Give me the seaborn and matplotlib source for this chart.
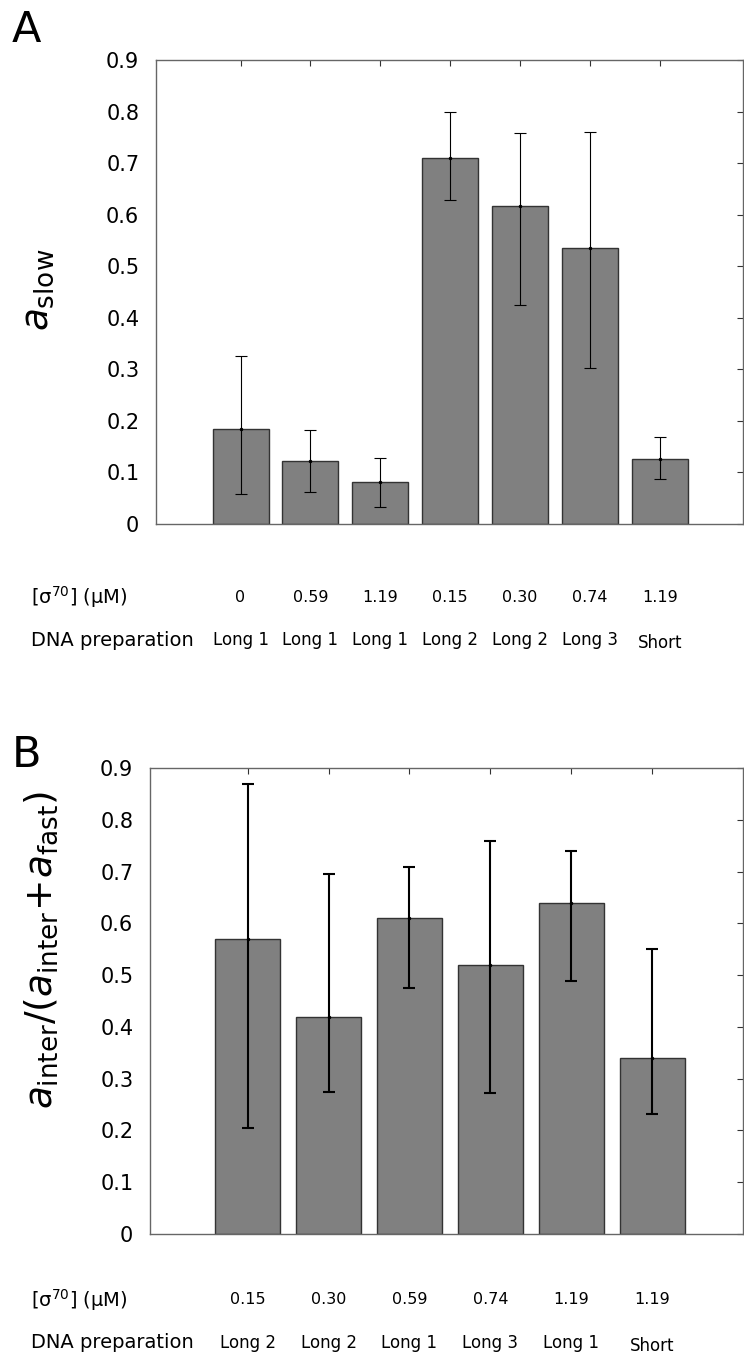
"""
Barras com erro assimetrico para a_slow e a razao a_inter/(a_inter+a_fast)
"""

import numpy as np
import pandas as pd
import seaborn as sns
import matplotlib.pyplot as plt

# Painel A
conc_a = ['0', '0.59', '1.19', '0.15', '0.30', '0.74', '1.19']
prep_a = ['Long 1', 'Long 1', 'Long 1', 'Long 2', 'Long 2', 'Long 3', 'Short']
slow = [0.184, 0.123, 0.081, 0.709, 0.617, 0.535, 0.127]
slow_lo = [0.058, 0.063, 0.033, 0.628, 0.425, 0.303, 0.087]
slow_hi = [0.326, 0.182, 0.128, 0.800, 0.758, 0.760, 0.168]

# Painel B
conc_b = ['0.15', '0.30', '0.59', '0.74', '1.19', '1.19']
prep_b = ['Long 2', 'Long 2', 'Long 1', 'Long 3', 'Long 1', 'Short']
ratio = [0.57, 0.42, 0.61, 0.52, 0.64, 0.34]
ratio_lo = [0.205, 0.275, 0.475, 0.272, 0.488, 0.232]
ratio_hi = [0.870, 0.695, 0.708, 0.759, 0.739, 0.551]

yticks = [0, 0.1, 0.2, 0.3, 0.4, 0.5, 0.6, 0.7, 0.8, 0.9]

sns.set_style('white')
plt.rcParams['font.family'] = ['DejaVu Sans']
plt.rcParams['mathtext.fontset'] = 'dejavusans'
plt.rcParams['text.color'] = 'black'
plt.rcParams['xtick.color'] = 'black'
plt.rcParams['ytick.color'] = 'black'

W, H = 744, 1355
fig = plt.figure(figsize=(W / 100, H / 100), dpi=100)
ax_a = fig.add_axes([156/W, 1 - 524/H, 587/W, 464/H])
ax_b = fig.add_axes([150/W, 1 - 1234/H, 593/W, 466/H])


def painel(ax, vals, lo, hi, conc, prep, xlim, ew, cap, rows):
    pos = np.arange(1, len(vals) + 1)
    df = pd.DataFrame({'pos': pos, 'val': vals})
    sns.barplot(data=df, x='pos', y='val', native_scale=True, ax=ax,
                color='#808080', saturation=1, edgecolor='#333333',
                linewidth=1, errorbar=None, width=0.8)
    vals = np.array(vals)
    yerr = [vals - np.array(lo), np.array(hi) - vals]
    ax.errorbar(pos, vals, yerr=yerr, fmt='.', color='black', ms=3,
                elinewidth=ew, capsize=cap, capthick=ew)
    ax.set_xlim(*xlim)
    ax.set_ylim(0, 0.9)
    ax.set_xticks(pos)
    ax.set_xticklabels([])
    ax.set_yticks(yticks)
    ax.set_yticklabels(['0'] + [f'{t:.1f}' for t in yticks[1:]], fontsize=15)
    ax.set_xlabel('')
    ax.set_ylabel('')
    ax.tick_params(direction='in', top=True, right=True, length=4,
                   width=0.8, color='#333333', pad=12)
    for s in ax.spines.values():
        s.set_color('#666666')
        s.set_linewidth(1)
    # linhas de texto abaixo do eixo (coordenadas de figura em y)
    tr = ax.get_xaxis_transform()
    y0, y1 = rows
    bb = ax.get_position()
    def ax_y(py):
        return ((1 - py / H) - bb.y0) / bb.height
    for p, c, d in zip(pos, conc, prep):
        ax.text(p, ax_y(y0), c, transform=tr, ha='center', va='center',
                fontsize=11.5, family=['Liberation Sans Narrow', 'DejaVu Sans'])
        dy = 3 if d == 'Short' else 0
        ax.text(p, ax_y(y1 + dy), d, transform=tr, ha='center', va='center',
                fontsize=12)
    fig.text(31/W, 1 - y0/H, r'[$\mathregular{\sigma^{70}}$] (μM)',
             ha='left', va='center', fontsize=14)
    fig.text(31/W, 1 - y1/H, 'DNA preparation',
             ha='left', va='center', fontsize=14)


painel(ax_a, slow, slow_lo, slow_hi, conc_a, prep_a, (-0.21, 8.19),
       0.8, 4, (597, 640))
painel(ax_b, ratio, ratio_lo, ratio_hi, conc_b, prep_b, (-0.205, 7.12),
       1.5, 4, (1300, 1343))

fig.text(38/W, 1 - 290/H, r'$a_{\mathrm{slow}}$', rotation=90,
         ha='center', va='center', fontsize=27)
fig.text(41/W, 1 - 950/H,
         r'$a_{\mathrm{inter}}/(a_{\mathrm{inter}}\!+\!a_{\mathrm{fast}})$',
         rotation=90, ha='center', va='center', fontsize=27)

fig.text(12/W, 1 - 9/H, 'A', ha='left', va='top', fontsize=31)
fig.text(12/W, 1 - 734/H, 'B', ha='left', va='top', fontsize=31)

fig.savefig('out.png', dpi=100)
